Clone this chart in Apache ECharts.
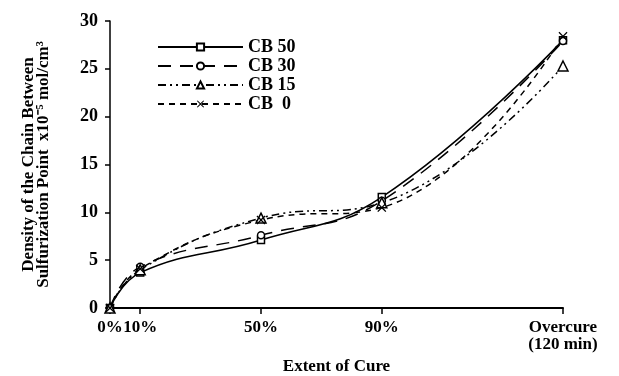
<!DOCTYPE html>
<html>
<head>
<meta charset="utf-8">
<script src="https://cdn.jsdelivr.net/npm/echarts@6/dist/echarts.min.js"></script>
<style>
  html, body { margin: 0; padding: 0; background: #fff; }
  #chart { width: 619px; height: 376px; }
</style>
</head>
<body>
<div id="chart"></div>
<script>
// extent of cure (%), overcure placed at 150 on the axis
var cure = [0, 10, 50, 90, 150];
var cureLabels = {0: '0%', 10: '10%', 50: '50%', 90: '90%', 150: 'Overcure\n(120 min)'};

var cb50 = [0, 3.7, 7.1, 11.6, 28.0];
var cb30 = [0, 4.3, 7.6, 11.2, 27.9];
var cb15 = [0, 4.0, 9.4, 11.0, 25.3];
var cb0  = [0, 4.1, 9.2, 10.5, 28.4];

var yTicks = [0, 5, 10, 15, 20, 25, 30];

function pairs(vals) {
  return cure.map(function (x, i) { return [x, vals[i]]; });
}

var font = 'Liberation Serif, Times New Roman, serif';
// closed x-shaped outline so it fills as a cross
var crossSym = 'path://M0,1L1,0L5,4L9,0L10,1L6,5L10,9L9,10L5,6L1,10L0,9L4,5Z';

function line(name, vals, dash, symbol, size, fill) {
  return {
    name: name,
    type: 'line',
    smooth: 0.45,
    data: pairs(vals),
    symbol: symbol,
    symbolSize: size,
    lineStyle: { color: '#000', width: 1.5, type: dash },
    itemStyle: fill
      ? { color: '#000', borderWidth: 0 }
      : { color: '#fff', borderColor: '#000', borderWidth: 1.5 }
  };
}

var series = [
  line('CB 50', cb50, 'solid', 'rect', 7),
  line('CB 30', cb30, [13, 9], 'circle', 7),
  line('CB 15', cb15, [8, 4, 2, 4, 2, 4], 'triangle', 10),
  line('CB  0', cb0, [6, 5], crossSym, 9, true)
];

// x axis pieces: solid up to 90%, dashed to overcure
series[3].markLine = {
  silent: true,
  symbol: 'none',
  label: { show: false },
  data: [
    [{ xAxis: 1, yAxis: 0, lineStyle: { type: 'solid', color: '#000', width: 1.5 } }, { xAxis: 90, yAxis: 0 }],
    [{ xAxis: 90, yAxis: 0, lineStyle: { type: [8, 6], color: '#000', width: 1.5 } }, { xAxis: 150, yAxis: 0 }]
  ]
};

var chart = echarts.init(document.getElementById('chart'));
chart.setOption({
  animation: false,
  grid: { left: 110, right: 56, top: 21, bottom: 68, outerBoundsMode: 'none' },
  legend: {
    left: 152,
    top: 33,
    orient: 'vertical',
    itemWidth: 85,
    itemHeight: 9,
    itemGap: 1,
    textStyle: { fontFamily: font, fontSize: 18, fontWeight: 'bold', color: '#000', lineHeight: 18 },
    data: ['CB 50', 'CB 30', 'CB 15', 'CB  0']
  },
  xAxis: {
    type: 'value',
    min: 0,
    max: 150,
    name: 'Extent of Cure',
    nameLocation: 'middle',
    nameGap: 49,
    nameTextStyle: { fontFamily: font, fontSize: 17, fontWeight: 'bold', color: '#000' },
    splitLine: { show: false },
    axisLine: { show: true, lineStyle: { color: '#000', width: 2 } },
    axisTick: { show: true, customValues: cure, length: 6, lineStyle: { color: '#000', width: 1.5 } },
    axisLabel: {
      customValues: cure,
      margin: 11,
      fontFamily: font, fontSize: 17, fontWeight: 'bold', color: '#000', lineHeight: 17,
      formatter: function (v) { return cureLabels[v]; }
    }
  },
  yAxis: {
    type: 'value',
    min: 0,
    max: 30,
    interval: 5,
    name: 'Density of the Chain Between\nSulfurization Point  x10\u207B\u2075 mol/cm\u00B3',
    nameLocation: 'middle',
    nameGap: 59,
    nameTextStyle: { fontFamily: font, fontSize: 17, fontWeight: 'bold', color: '#000', lineHeight: 15 },
    splitLine: { show: false },
    axisLine: { show: true, lineStyle: { color: '#000', width: 1.5 } },
    axisTick: { show: true, length: 5, lineStyle: { color: '#000', width: 1.5 } },
    axisLabel: {
      margin: 12,
      fontFamily: font, fontSize: 18, fontWeight: 'bold', color: '#000',
      formatter: function (v) { return yTicks.indexOf(v) >= 0 ? String(v) : ''; }
    }
  },
  series: series
});
</script>
</body>
</html>
